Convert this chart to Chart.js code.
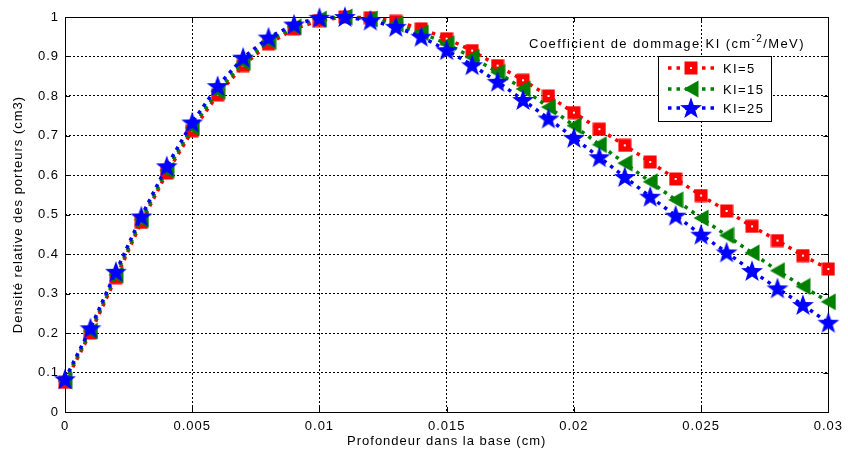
<!DOCTYPE html>
<html lang="fr">
<head>
<meta charset="UTF-8">
<title>Densité relative des porteurs</title>
<script src="https://cdn.jsdelivr.net/npm/chart.js"></script>
<style>
    * { margin: 0; padding: 0; box-sizing: border-box; }
    body { background: #fff; width: 848px; height: 452px; overflow: hidden; }
    #wrap { position: relative; width: 848px; height: 452px; }
</style>
</head>
<body>
<div id="wrap"><canvas id="chart"></canvas></div>
<script>
// profondeur (cm)
const depth = [0, 0.001, 0.002, 0.003, 0.004, 0.005, 0.006, 0.007, 0.008, 0.009, 0.010,
               0.011, 0.012, 0.013, 0.014, 0.015, 0.016, 0.017, 0.018, 0.019, 0.020,
               0.021, 0.022, 0.023, 0.024, 0.025, 0.026, 0.027, 0.028, 0.029, 0.030];

const ki5 = [0.075, 0.200, 0.340, 0.480, 0.605, 0.712, 0.803, 0.877, 0.932, 0.970, 0.991,
             1.000, 0.998, 0.989, 0.970, 0.945, 0.915, 0.877, 0.840, 0.800, 0.758,
             0.716, 0.675, 0.633, 0.590, 0.548, 0.509, 0.470, 0.434, 0.396, 0.362];
const ki15 = [0.079, 0.205, 0.347, 0.487, 0.612, 0.720, 0.812, 0.885, 0.939, 0.975, 0.995,
              1.000, 0.995, 0.982, 0.960, 0.932, 0.898, 0.860, 0.818, 0.772, 0.725,
              0.677, 0.630, 0.583, 0.537, 0.491, 0.447, 0.403, 0.358, 0.318, 0.279];
const ki25 = [0.083, 0.212, 0.355, 0.495, 0.622, 0.733, 0.825, 0.897, 0.948, 0.981, 0.998,
              1.000, 0.991, 0.975, 0.950, 0.916, 0.878, 0.836, 0.790, 0.743, 0.694,
              0.645, 0.595, 0.545, 0.497, 0.449, 0.404, 0.357, 0.313, 0.271, 0.226];

const seriesLabels = ['KI=5', 'KI=15', 'KI=25'];
const xTicks = [0, 0.005, 0.01, 0.015, 0.02, 0.025, 0.03];
const xTickLabels = ['0', '0.005', '0.01', '0.015', '0.02', '0.025', '0.03'];
const yTicks = [0, 0.1, 0.2, 0.3, 0.4, 0.5, 0.6, 0.7, 0.8, 0.9, 1];
const yTickLabels = ['0', '0.1', '0.2', '0.3', '0.4', '0.5', '0.6', '0.7', '0.8', '0.9', '1'];

const FONT = '"Liberation Sans", Arial, sans-serif';

// marker images
function squareMarker() {
    const c = document.createElement('canvas');
    c.width = 14; c.height = 14;
    const g = c.getContext('2d');
    g.fillStyle = '#ff0000';
    g.fillRect(0.5, 0.5, 13, 13);
    g.fillStyle = '#ffffff';
    g.fillRect(6, 6, 2, 2);
    return c;
}
function triangleMarker() {
    const c = document.createElement('canvas');
    c.width = 16; c.height = 18;
    const g = c.getContext('2d');
    g.fillStyle = '#008000';
    g.beginPath();
    g.moveTo(0.5, 9);
    g.lineTo(15.5, 0.5);
    g.lineTo(15.5, 17.5);
    g.closePath();
    g.fill();
    return c;
}
function starMarker() {
    const c = document.createElement('canvas');
    c.width = 24; c.height = 24;
    const g = c.getContext('2d');
    g.fillStyle = '#0000ff';
    g.beginPath();
    for (let i = 0; i < 10; i++) {
        const r = i % 2 === 0 ? 11.5 : 4.6;
        const a = -Math.PI / 2 + i * Math.PI / 5;
        const px = 12 + r * Math.cos(a), py = 12.8 + r * Math.sin(a);
        if (i === 0) g.moveTo(px, py); else g.lineTo(px, py);
    }
    g.closePath();
    g.fill();
    return c;
}

const markers = [squareMarker(), triangleMarker(), starMarker()];
const colors = ['#ff0000', '#008000', '#0000ff'];
const values = [ki5, ki15, ki25];
const DASH = [3.5, 5];

// axes frame, inward ticks and legend
const matlabAxes = {
    id: 'matlabAxes',
    beforeDraw(chart) {
        chart.ctx.letterSpacing = '1px';
    },
    beforeDatasetsDraw(chart) {
        const { ctx, chartArea: a, scales } = chart;
        ctx.save();
        ctx.strokeStyle = '#000';
        ctx.lineWidth = 1;
        ctx.beginPath();
        xTicks.forEach(v => {
            const x = Math.round(scales.x.getPixelForValue(v)) + 0.5;
            ctx.moveTo(x, a.bottom); ctx.lineTo(x, a.bottom - 5);
            ctx.moveTo(x, a.top); ctx.lineTo(x, a.top + 5);
        });
        yTicks.forEach(v => {
            const y = Math.round(scales.y.getPixelForValue(v)) + 0.5;
            ctx.moveTo(a.left, y); ctx.lineTo(a.left + 5, y);
            ctx.moveTo(a.right, y); ctx.lineTo(a.right - 5, y);
        });
        ctx.stroke();
        ctx.strokeRect(Math.round(a.left) + 0.5, Math.round(a.top) + 0.5,
                       Math.round(a.right - a.left), Math.round(a.bottom - a.top));
        ctx.restore();
    },
    afterDatasetsDraw(chart) {
        const { ctx } = chart;
        ctx.save();
        ctx.letterSpacing = '1.4px';
        // legend title
        ctx.fillStyle = '#000';
        ctx.textBaseline = 'alphabetic';
        const p1 = 'Coefficient de dommage KI (cm', p2 = '-2', p3 = '/MeV)';
        ctx.font = '13px ' + FONT;
        const w1 = ctx.measureText(p1).width, w3 = ctx.measureText(p3).width;
        ctx.font = '10px ' + FONT;
        const w2 = ctx.measureText(p2).width;
        let tx = 667 - (w1 + w2 + w3) / 2;
        const ty = 48;
        ctx.font = '13px ' + FONT;
        ctx.fillText(p1, tx, ty); tx += w1;
        ctx.font = '10px ' + FONT;
        ctx.fillText(p2, tx, ty - 6); tx += w2;
        ctx.font = '13px ' + FONT;
        ctx.fillText(p3, tx, ty);

        // legend box
        const bx = 658.5, by = 56.5, bw = 113, bh = 65;
        ctx.fillStyle = '#fff';
        ctx.fillRect(bx, by, bw, bh);
        ctx.strokeStyle = '#000';
        ctx.lineWidth = 1;
        ctx.strokeRect(bx, by, bw, bh);
        const rows = [68, 89, 108];
        seriesLabels.forEach((lab, i) => {
            const y = rows[i];
            ctx.strokeStyle = colors[i];
            ctx.lineWidth = 3.5;
            ctx.setLineDash(DASH);
            ctx.beginPath();
            ctx.moveTo(668, y); ctx.lineTo(714, y);
            ctx.stroke();
            ctx.setLineDash([]);
            const m = markers[i];
            ctx.drawImage(m, 691 - m.width / 2, y - m.height / 2);
            ctx.fillStyle = '#000';
            ctx.font = '13px ' + FONT;
            ctx.textBaseline = 'middle';
            ctx.fillText(lab, 723, y + 1);
        });
        ctx.restore();
    }
};

const datasets = values.map((vals, i) => ({
    label: seriesLabels[i],
    data: depth.map((d, k) => ({ x: d, y: vals[k] })),
    borderColor: colors[i],
    backgroundColor: colors[i],
    borderWidth: 3.5,
    borderDash: DASH,
    pointStyle: markers[i],
    pointRadius: 9,
    pointHoverRadius: 9,
    tension: 0,
    clip: false,
    order: 3 - i
}));

new Chart(document.getElementById('chart'), {
    type: 'line',
    data: { datasets },
    options: {
        responsive: true,
        maintainAspectRatio: false,
        animation: false,
        events: [],
        layout: { padding: { top: 17, right: 19, left: 0, bottom: 0 } },
        plugins: { legend: { display: false }, tooltip: { enabled: false } },
        scales: {
            x: {
                type: 'linear',
                min: 0, max: 0.03,
                afterBuildTicks: s => { s.ticks = xTicks.map(v => ({ value: v })); },
                afterFit: s => { s.height = 40; },
                ticks: {
                    color: '#000', font: { family: FONT, size: 13 }, padding: 7,
                    maxRotation: 0, autoSkip: false,
                    callback: (v, idx) => xTickLabels[idx]
                },
                grid: { color: '#000', lineWidth: 1, drawTicks: false },
                border: { display: false, dash: [2, 2] },
                title: {
                    display: true, text: 'Profondeur dans la base (cm)', color: '#000',
                    font: { family: FONT, size: 13 }, padding: { top: 0, bottom: 3 }
                }
            },
            y: {
                type: 'linear',
                min: 0, max: 1,
                afterBuildTicks: s => { s.ticks = yTicks.map(v => ({ value: v })); },
                afterFit: s => { s.width = 65; },
                ticks: {
                    color: '#000', font: { family: FONT, size: 13 }, padding: 6,
                    autoSkip: false,
                    callback: (v, idx) => yTickLabels[idx]
                },
                grid: { color: '#000', lineWidth: 1, drawTicks: false },
                border: { display: false, dash: [2, 2] },
                title: {
                    display: true, text: 'Densité relative des porteurs (cm3)', color: '#000',
                    font: { family: FONT, size: 13 }, padding: { top: 11, bottom: 0 }
                }
            }
        }
    },
    plugins: [matlabAxes]
});
</script>
</body>
</html>
